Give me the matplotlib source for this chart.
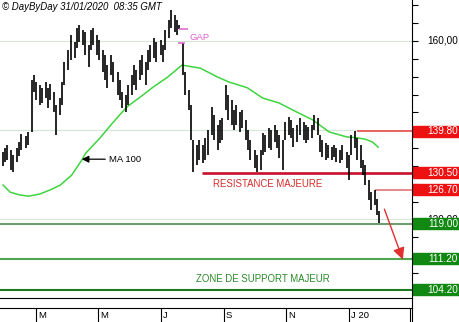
import matplotlib
matplotlib.use('Agg')
import matplotlib.pyplot as plt
import matplotlib.transforms as mtransforms
from matplotlib.patches import Rectangle
from matplotlib.lines import Line2D
import pandas as pd
import numpy as np

plt.rcParams['font.family'] = ['Liberation Sans', 'DejaVu Sans']

# ---- data ----
highs = [135.1, 136.0, 136.7, 135.6, 134.4, 136.0, 137.4, 139.2, 138.7, 139.6,
         151.3, 152.4, 150.8, 150.1, 149.5, 150.8, 149.5, 150.4, 148.6, 145.7,
         147.2, 150.8, 155.3, 158.0, 161.3, 159.8, 162.9, 163.6, 162.5, 162.0,
         159.1, 162.5, 162.9, 161.3, 160.2, 158.0, 156.9, 154.6, 156.9, 155.3,
         153.0, 151.3, 148.6, 147.9, 150.1, 152.4, 154.6, 153.5, 155.7, 156.9,
         155.3, 158.0, 159.1, 160.7, 159.8, 160.2, 159.1, 162.5, 164.7, 167.0,
         165.8, 164.7, 163.6, 159.6, 153.0, 149.0, 145.7, 137.8, 136.7, 137.8,
         136.7, 138.3, 140.0, 145.2, 143.4, 141.2, 142.3, 142.7, 150.1, 147.9,
         146.8, 144.5, 145.7, 144.1, 144.5, 142.3, 140.0, 137.8, 135.6, 134.4,
         135.6, 139.4, 138.9, 140.5, 140.0, 141.2, 140.0, 138.9, 137.8, 141.8,
         142.9, 142.3, 140.5, 141.2, 142.7, 141.8, 141.2, 140.7, 141.2, 143.4,
         142.7, 138.9, 137.8, 137.1, 136.7, 136.2, 136.7, 136.0, 135.6, 136.7,
         135.1, 134.4, 138.9, 139.8, 138.3, 136.7, 133.3, 132.2, 128.8, 126.2,
         126.7, 124.5, 121.9]
lows = [132.0, 132.9, 133.3, 131.1, 130.6, 132.9, 134.2, 135.6, 136.0, 136.7,
        139.6, 148.6, 146.8, 145.7, 146.1, 147.2, 145.0, 146.8, 144.1, 138.9,
        143.4, 145.7, 150.1, 153.5, 155.7, 156.2, 158.4, 159.8, 159.1, 156.9,
        154.2, 158.0, 159.1, 156.9, 155.7, 153.0, 151.3, 149.5, 152.4, 150.8,
        147.9, 146.8, 145.0, 144.1, 145.7, 147.9, 150.1, 149.0, 151.3, 152.4,
        150.1, 153.5, 155.3, 156.2, 155.3, 156.9, 155.3, 158.0, 160.7, 162.9,
        162.0, 161.3, 162.7, 152.4, 147.9, 144.5, 137.8, 130.6, 132.2, 133.3,
        132.6, 133.3, 134.4, 138.9, 137.8, 135.6, 137.1, 137.8, 144.5, 142.3,
        141.2, 140.0, 141.2, 139.6, 140.5, 137.8, 135.6, 133.3, 131.5, 130.6,
        131.1, 134.4, 135.1, 136.0, 135.6, 137.4, 136.0, 133.8, 131.1, 137.8,
        138.9, 138.3, 136.2, 137.4, 138.9, 137.8, 137.1, 137.8, 138.3, 140.0,
        138.9, 135.1, 134.0, 133.3, 133.8, 133.3, 134.0, 132.9, 132.6, 133.3,
        131.5, 128.8, 134.4, 136.0, 133.3, 131.5, 130.0, 127.7, 124.4, 122.1,
        123.2, 121.0, 119.2]

ma_dates = ['2019-01-28', '2019-02-04', '2019-02-13', '2019-02-22', '2019-03-05',
            '2019-03-15', '2019-03-25', '2019-04-05', '2019-04-15', '2019-04-19',
            '2019-05-03', '2019-05-15', '2019-05-29', '2019-06-11', '2019-06-24',
            '2019-07-08', '2019-07-22', '2019-08-09', '2019-08-26', '2019-09-06',
            '2019-09-24', '2019-10-09', '2019-10-25', '2019-11-11', '2019-11-27',
            '2019-12-13', '2019-12-30', '2020-01-09', '2020-01-17', '2020-01-24',
            '2020-01-30']
ma_values = [127.7, 126.1, 125.5, 125.2, 125.7, 126.6, 127.7, 129.9, 133.3, 134.9,
             138.3, 141.6, 145.2, 147.4, 149.7, 151.9, 154.6, 153.9, 151.9, 150.8,
             149.5, 147.2, 146.1, 144.1, 142.3, 139.6, 138.5, 138.3, 138.0, 137.4,
             136.2]

red_levels = [139.80, 130.50, 126.70]
red_starts = ['2020-01-09', '2019-08-11', '2020-01-27']
green_levels = [119.00, 111.20, 104.20]
grid_levels = [160, 140, 120]
tick_dates = ['2019-03-01', '2019-05-01', '2019-07-01', '2019-09-01',
              '2019-11-01', '2020-01-01', '2020-03-01']
tick_labels = ['M', 'M', 'J', 'S', 'N', 'J 20', 'M']

dates = pd.bdate_range('2019-01-28', '2020-01-31')[::2]

# ---- figure ----
W, H = 460, 322
fig = plt.figure(figsize=(W / 100, H / 100), dpi=100)
axr = 412 / W
ax = fig.add_axes([0, 24 / H, axr, 298 / H])
ax.set_ylim(102.38, 169.19)
x0, x1 = pd.Timestamp('2019-01-25'), pd.Timestamp('2020-03-03')
ax.set_xlim(x0, x1)

for s in ['top', 'left', 'right']:
    ax.spines[s].set_visible(False)
ax.spines['bottom'].set_linewidth(0.8)
ax.set_xticks([])
ax.yaxis.tick_right()
ax.set_yticks(np.arange(104, 170, 4))
ax.tick_params(axis='y', direction='out', length=4, width=0.8, labelright=False,
               right=True, left=False)

# gridlines
for g in grid_levels:
    ax.axhline(g, color='#d4e6d4', lw=0.8, zorder=0)

# support lines
gcolors = ['#6f9f6f', '#4fa64f', '#1f7a1f']
for lv, c in zip(green_levels, gcolors):
    ax.axhline(lv, color=c, lw=1.5, zorder=1)

# resistance lines
rcolors = ['#e83a3a', '#c8102e', '#e06a6a']
rwidths = [1.1, 1.9, 1.1]
for lv, st, c, w in zip(red_levels, red_starts, rcolors, rwidths):
    ax.hlines(lv, pd.Timestamp(st), x1, color=c, lw=w, zorder=2)

# MA 100
ax.plot(pd.to_datetime(ma_dates), ma_values, color='#3fd43f', lw=1.1, zorder=3)

# price bars
ax.vlines(dates, lows, highs, color='black', lw=1.2, zorder=4)

# gap markers
gap_top = lows[62]
gap_bot = highs[63]
ax.hlines(gap_top, dates[62], dates[62] + pd.Timedelta(days=9), color='#e060d0', lw=1.1, zorder=5)
ax.hlines(gap_bot, dates[62] - pd.Timedelta(days=1), dates[63] + pd.Timedelta(days=2),
          color='#e060d0', lw=1.1, zorder=5)
ax.text(dates[63] + pd.Timedelta(days=6), (gap_top + gap_bot) / 2 - 0.3, 'GAP',
        color='#e060d0', fontsize=6.8, va='center', ha='left')

# MA label with arrow
ax.annotate('MA 100', xy=(pd.Timestamp('2019-04-15'), 133.5),
            xytext=(pd.Timestamp('2019-05-12'), 133.5), fontsize=6.8,
            va='center', ha='left',
            arrowprops=dict(arrowstyle='-|>,head_length=0.6,head_width=0.3',
                            color='black', lw=0.9, shrinkA=1, shrinkB=0))

ax.text(pd.Timestamp('2019-08-21'), 127.9, 'RESISTANCE MAJEURE', color='#d42a2a',
        fontsize=6.9, va='center', ha='left')
ax.text(pd.Timestamp('2019-08-05'), 106.6, 'ZONE DE SUPPORT MAJEUR', color='#2a8a2a',
        fontsize=6.9, va='center', ha='left')

# red arrow toward target
ax.annotate('', xy=(pd.Timestamp('2020-02-23'), 111.0),
            xytext=(pd.Timestamp('2020-02-05'), 122.3),
            arrowprops=dict(arrowstyle='-|>,head_length=0.7,head_width=0.35',
                            color='#e03030', lw=1.0, shrinkA=0, shrinkB=0),
            annotation_clip=False)

# right side labels
bt = mtransforms.blended_transform_factory(fig.transFigure, ax.transData)
ax.text(458 / W, 160, '160,00', transform=bt, fontsize=7.2, ha='right', va='center', clip_on=False)
ax.text(458 / W, 120, '120,00', transform=bt, fontsize=7.2, ha='right', va='center', clip_on=False)
ax.text(458 / W, 140, '140,00', transform=bt, fontsize=7.2, ha='right', va='center', clip_on=False)
box_h = 11 / (298 / (169.19 - 102.38))
for lv, c in [(v, '#ee1111') for v in red_levels] + [(v, '#118811') for v in green_levels]:
    ax.add_patch(Rectangle((413 / W, lv - box_h / 2), 47 / W, box_h, transform=bt,
                           color=c, clip_on=False, zorder=6))
    ax.text(458 / W, lv, f'{lv:.2f}', transform=bt, fontsize=7.2, color='white',
            ha='right', va='center', clip_on=False, zorder=7)

# right axis line through full height
fig.add_artist(Line2D([axr, axr], [0, 1], transform=fig.transFigure, color='black', lw=0.8))

# bottom date axis
ax2 = fig.add_axes([0, 0, axr, 14 / H])
ax2.set_xlim(x0, x1)
ax2.set_ylim(0, 1)
for s in ['bottom', 'left', 'right']:
    ax2.spines[s].set_visible(False)
ax2.spines['top'].set_linewidth(0.8)
ax2.set_xticks([])
ax2.set_yticks([])
ax2.patch.set_alpha(0)
for d, lab in zip(tick_dates, tick_labels):
    t = pd.Timestamp(d)
    ax2.axvline(t, color='black', lw=0.8)
    ax2.text(t + pd.Timedelta(days=2), 0.45, lab, fontsize=6.8, va='center', ha='left',
             clip_on=True)

fig.text(2 / W, 1 - 7 / H, '\u00a9 DayByDay 31/01/2020  08:35 GMT', fontsize=6.9,
         style='italic', va='center', ha='left')

fig.savefig('out.png', dpi=100)
